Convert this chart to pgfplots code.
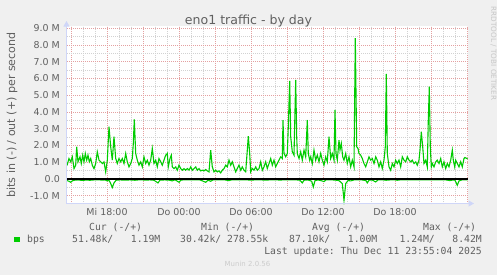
\documentclass[border=0pt]{standalone}
\usepackage{pgfplots}
\pgfplotsset{compat=1.18}
\usepackage{pgfplotstable}
\usepackage{fontspec}
\setmainfont{DejaVu Sans}
\setmonofont{DejaVu Sans Mono}
\usetikzlibrary{arrows.meta}
\definecolor{bgc}{HTML}{F0F0F0}
\definecolor{fontc}{HTML}{606060}
\definecolor{axisc}{HTML}{CFD6F8}
\definecolor{mgridc}{RGB}{228,160,160}
\definecolor{gridc}{RGB}{210,210,210}
\definecolor{linec}{HTML}{00CC00}

% px = horizontal pixel position (5 minutes per pixel), out in Mbit/s
\pgfplotstableread{
px out
67 0.80
69 1.22
70.7 1.02
72.3 1.32
74 0.62
75.7 0.82
76.7 1.92
78 1.02
80 1.32
81.3 0.92
82.7 1.42
84 1.02
85.3 1.52
86.7 1.12
88 1.42
89.3 1.02
90.7 1.22
92.3 0.82
94 0.62
95.7 0.92
97.3 1.62
99 1.12
100.7 1.02
102.3 0.92
104 1.02
105.7 0.42
107.3 1.12
109 3.12
110.7 1.92
112.3 1.12
114 2.52
115.7 1.22
117.3 0.92
119 1.22
120.7 1.02
122.3 1.22
124 0.92
125.7 1.52
127.3 1.02
129 0.72
130.7 0.92
132.3 1.22
133.3 2.12
134.3 3.56
135.7 1.52
137.3 1.12
139 0.82
140.7 1.02
142.3 0.72
144 1.32
145.7 0.92
147.3 1.12
149 0.82
150.7 1.12
152.3 1.82
154 0.92
155.7 1.12
157.3 0.72
159 1.22
160.7 1.02
162.3 0.82
164 1.12
165.7 1.42
167.3 1.52
168.3 0.72
170 1.22
171.3 1.42
172.3 0.72
174 0.62
175.7 0.72
177.3 0.52
179 0.82
180.7 0.62
182.3 0.52
184 0.62
185.7 0.52
187.3 0.62
189 0.52
190.7 0.72
192.3 0.52
194 0.62
195.7 0.72
197.3 0.52
199 0.62
200.7 0.48
202.3 0.52
204 0.48
205.7 0.56
207.3 0.48
209 0.42
210.7 1.72
212.3 0.72
214 0.42
215.7 0.52
217.3 0.42
219 0.48
220.7 0.36
222.3 0.52
224 0.62
225.7 0.82
227.3 0.72
229 1.12
230.7 0.82
232.3 1.02
234 0.72
235.7 0.42
237.3 0.62
239 0.82
240.7 0.52
242.3 0.72
244 0.52
245.7 0.42
247.3 1.72
248.3 2.56
249.7 1.52
250.7 0.42
252.3 0.62
254 0.52
255.7 0.72
257.3 0.52
259 0.62
260.7 1.02
262.3 0.52
264 0.72
265.7 1.02
267.3 0.62
269 0.92
270.7 1.22
272.3 0.82
274 1.12
275.7 0.72
277.3 0.92
279 1.12
280.7 1.32
282.3 1.22
283 3.52
284 1.52
285.7 1.32
287.3 1.52
288.3 3.12
289.7 5.86
290.7 2.52
292.3 1.62
294 1.42
295.7 5.92
296.7 2.52
297.3 1.52
299 1.22
300.7 1.62
302.3 1.12
304 1.72
305.7 1.32
307.3 3.52
308.3 1.52
309.7 1.12
310.7 1.32
312.3 0.92
314 1.72
315.7 1.12
317.3 1.42
319 1.02
320.7 1.52
322.3 1.12
324 0.82
325.7 1.32
327.3 1.02
329 2.52
330.7 1.22
332.3 1.52
334 1.12
335 4.12
336 1.52
337.3 1.12
339 2.32
340 1.72
341.3 2.12
342.7 1.32
344 1.12
345.7 1.52
347.3 0.92
349 1.32
350.7 0.72
352.3 1.12
354 0.72
355.3 8.42
356.7 1.92
358 1.82
359 1.52
360.7 1.42
362.3 1.22
364 0.92
365.7 0.72
367.3 1.02
369 1.32
370.7 1.12
372.3 1.22
374 0.92
375.7 1.32
377.3 1.12
379 0.72
380.7 1.02
382.3 0.62
384 1.12
385.3 1.92
386.3 6.28
387.3 1.52
389 0.72
390.7 0.52
392.3 0.92
394 0.72
395.7 1.12
397.3 0.92
399 1.12
400.7 0.72
402.3 1.32
404 1.12
405.7 1.02
407.3 1.32
409 1.12
410.7 1.02
412.3 1.12
414 0.92
415.7 1.02
417.3 0.82
419 1.12
420 1.72
421.3 2.82
422.7 1.92
424 0.92
425.7 1.12
427.3 0.72
428.3 3.52
429.3 5.52
430.3 1.92
431.3 0.72
432.3 0.92
434 0.72
435.7 1.02
437.3 1.12
439 0.92
440.7 1.22
442.3 0.72
444 1.02
445.7 0.62
447.3 0.92
449 0.72
450.7 1.12
452.3 1.72
453.3 1.12
454.7 0.72
455.7 1.12
457.3 0.92
459 0.72
460.7 1.02
462.3 0.72
464 1.22
465 1.28
467.7 1.19
}\outdata

% in (plotted negative), Mbit/s
\pgfplotstableread{
px in
67 -0.10
69 -0.14
70.7 -0.20
72.3 -0.12
74 -0.08
78 -0.06
82 -0.09
86 -0.07
90 -0.08
94 -0.06
98 -0.05
102 -0.07
105 -0.06
107.3 -0.12
109 -0.08
110.7 -0.28
112.3 -0.52
114 -0.24
116 -0.08
120 -0.06
125 -0.07
130 -0.06
135 -0.08
140 -0.05
145 -0.07
150 -0.06
154 -0.08
158 -0.24
160 -0.07
165 -0.06
170 -0.08
172.3 -0.12
175 -0.05
179 -0.20
181 -0.07
185 -0.05
190 -0.06
195 -0.05
200 -0.06
205.7 -0.20
208 -0.08
210.7 -0.14
213 -0.06
220 -0.05
225 -0.06
229 -0.10
232 -0.05
238 -0.06
245 -0.05
250 -0.07
255 -0.06
260 -0.05
264 -0.07
270 -0.06
275 -0.05
280 -0.07
285 -0.05
290 -0.06
295 -0.05
300 -0.08
302.3 -0.24
304 -0.08
308 -0.06
311.7 -0.14
313.3 -0.48
315 -0.10
318 -0.06
322 -0.12
324 -0.16
326 -0.06
330 -0.05
335 -0.07
339 -0.10
342.3 -0.28
344 -1.28
345.7 -0.28
348 -0.10
350.7 -0.12
354 -0.06
358 -0.05
362 -0.06
366 -0.10
367.3 -0.24
369 -0.08
372 -0.06
375.7 -0.18
378 -0.06
382 -0.05
386 -0.08
390 -0.06
394 -0.05
397.3 -0.08
400 -0.06
405 -0.05
410 -0.06
415 -0.05
420 -0.06
425 -0.05
430 -0.06
435 -0.05
440 -0.06
445 -0.05
450 -0.10
453 -0.06
455 -0.08
457.3 -0.38
459 -0.12
462 -0.06
465 -0.05
467.7 -0.05
}\indata

\begin{document}
\begin{tikzpicture}
\fill[bgc] (0bp,0bp) rectangle (497bp,-275bp);
\begin{axis}[
  at={(67bp,-204bp)}, anchor=south west,
  scale only axis, width=401bp, height=178bp,
  xmin=14.6667, xmax=48.0833, ymin=-1.5, ymax=9.14,
  axis background/.style={fill=white},
  axis line style={draw=none},
  tick style={draw=none},
  xtick={15,18,...,48},
  xticklabels={,Mi 18:00,,Do 00:00,,Do 06:00,,Do 12:00,,Do 18:00,,},
  minor x tick num=2,
  ytick={-1,0,1,2,3,4,5,6,7,8,9},
  yticklabels={-1.0 M,0.0,1.0 M,2.0 M,3.0 M,4.0 M,5.0 M,6.0 M,7.0 M,8.0 M,9.0 M},
  minor y tick num=1,
  grid=both,
  major grid style={mgridc, line width=0.8bp, dash pattern=on 1bp off 1bp},
  minor grid style={gridc, line width=0.8bp, dash pattern=on 1bp off 1bp},
  ticklabel style={font=\fontsize{9.5}{11}\selectfont, text=fontc, inner sep=0pt},
  yticklabel style={anchor=east, xshift=-7bp},
  xticklabel style={anchor=base, yshift=-11.3bp},
]
\addplot[linec, line width=1.1bp] table[x expr={18+(\thisrow{px}-107)/12}, y=out] {\outdata};
\addplot[linec, line width=1.1bp] table[x expr={18+(\thisrow{px}-107)/12}, y=in] {\indata};
\addplot[black, line width=1.6bp] coordinates {(14.6667,0) (48.0833,0)};
\end{axis}
% axis lines with arrows
\draw[axisc, line width=1bp, -{Triangle[length=5.5bp,width=6bp]}] (67bp,-203.5bp) -- (474bp,-203.5bp);
\draw[axisc, line width=1bp, -{Triangle[length=5.5bp,width=6bp]}] (66.5bp,-204bp) -- (66.5bp,-21bp);
% title and labels
\node[anchor=base, inner sep=0pt, font=\fontsize{12.6}{15}\selectfont, text=fontc] at (248.5bp,-24bp) {eno1 traffic - by day};
\node[rotate=90, anchor=base, inner sep=0pt, font=\fontsize{11.1}{13}\selectfont, text=fontc] at (15bp,-115bp) {bits in (-) / out (+) per second};
\node[rotate=-90, anchor=center, inner sep=0pt, font=\fontsize{7.3}{9}\selectfont, text=black!22] at (493.5bp,-53.5bp) {RRDTOOL / TOBI OETIKER};
% legend
\begin{scope}[every node/.style={inner sep=0pt, font=\ttfamily\fontsize{9.8}{12}\selectfont, text=fontc}]
\node[anchor=base west] at (89bp,-230.7bp) {Cur~(-/+)};
\node[anchor=base west] at (201bp,-230.7bp) {Min~(-/+)};
\node[anchor=base west] at (312bp,-230.7bp) {Avg~(-/+)};
\node[anchor=base west] at (423bp,-230.7bp) {Max~(-/+)};
\fill[linec] (14bp,-236.5bp) rectangle (19.5bp,-242bp);
\node[anchor=base west] at (27bp,-242.3bp) {bps};
\node[anchor=base west] at (72bp,-242.3bp) {51.48k/~~~1.19M};
\node[anchor=base west] at (180bp,-242.3bp) {30.42k/~278.55k};
\node[anchor=base west] at (289bp,-242.3bp) {87.10k/~~~1.00M};
\node[anchor=base east] at (482bp,-242.3bp) {1.24M/~~~8.42M};
\node[anchor=base east] at (482bp,-254bp) {Last~update:~Thu~Dec~11~23:55:04~2025};
\end{scope}
\node[anchor=base, inner sep=0pt, font=\fontsize{7}{9}\selectfont, text=black!20] at (247.5bp,-266.7bp) {Munin 2.0.56};
\end{tikzpicture}
\end{document}
